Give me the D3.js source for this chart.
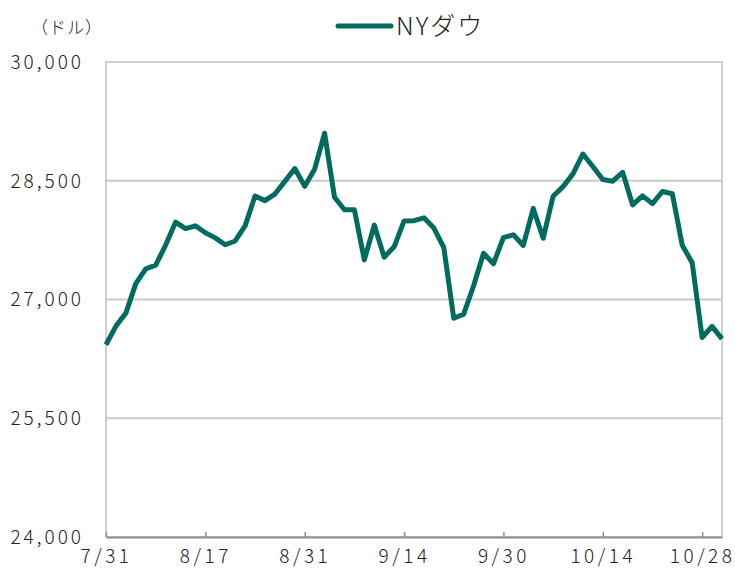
<!DOCTYPE html>
<html>
<head>
<meta charset="utf-8">
<script src="https://cdn.jsdelivr.net/npm/d3@7"></script>
<style>
  body { margin: 0; background: #fff; }
  text { font-family: "Noto Sans CJK JP", "Noto Sans", sans-serif; fill: #222; font-weight: 300; }
</style>
</head>
<body>
<svg id="chart" width="735" height="568"></svg>
<script>
// Japanese business days, NY Dow close (USD)
const dates = ["7/31","8/3","8/4","8/5","8/6","8/7","8/11","8/12","8/13","8/14",
  "8/17","8/18","8/19","8/20","8/21","8/24","8/25","8/26","8/27","8/28",
  "8/31","9/1","9/2","9/3","9/4","9/7","9/8","9/9","9/10","9/11",
  "9/14","9/15","9/16","9/17","9/18","9/23","9/24","9/25","9/28","9/29",
  "9/30","10/1","10/2","10/5","10/6","10/7","10/8","10/9","10/12","10/13",
  "10/14","10/15","10/16","10/19","10/20","10/21","10/22","10/23","10/26","10/27",
  "10/28","10/29","10/30"];
const dow = [26428,26664,26828,27201,27387,27433,27687,27977,27896,27931,
  27844,27778,27692,27739,27930,28308,28249,28332,28492,28654,
  28430,28646,29100,28292,28133,28133,27500,27940,27535,27666,
  27993,27996,28032,27902,27657,26763,26815,27174,27584,27452,
  27782,27817,27683,28149,27773,28304,28426,28587,28838,28680,
  28515,28494,28607,28196,28309,28211,28364,28336,27686,27464,
  26520,26660,26502];
const yTicks = [24000, 25500, 27000, 28500, 30000];
const xTickLabels = ["7/31","8/17","8/31","9/14","9/30","10/14","10/28"];
const seriesName = "NYダウ";
const unitLabel = "（ドル）";

const svg = d3.select("#chart");
const plotL = 106, plotR = 722, plotT = 62, plotB = 537;
const lineColor = "#006b5f";

const x = d3.scalePoint().domain(dates).range([plotL, plotR]);
const y = d3.scaleLinear().domain([24000, 30000]).range([plotB, plotT]);

// plot frame (light)
svg.append("rect")
  .attr("x", plotL).attr("y", plotT)
  .attr("width", plotR - plotL).attr("height", plotB - plotT)
  .attr("fill", "none").attr("stroke", "#cfcfcf").attr("stroke-width", 2);

// gridlines
svg.append("g").selectAll("line")
  .data(yTicks.slice(1, -1))
  .join("line")
  .attr("x1", plotL).attr("x2", plotR)
  .attr("y1", d => y(d)).attr("y2", d => y(d))
  .attr("stroke", "#cbcbcb").attr("stroke-width", 2);

// y labels
svg.append("g").selectAll("text")
  .data(yTicks)
  .join("text")
  .attr("x", 84)
  .attr("y", d => y(d))
  .attr("dy", "0.36em")
  .attr("text-anchor", "end")
  .attr("font-size", 19)
  .attr("letter-spacing", "3px")
  .text(d => d3.format(",")(d));

// x axis
const xAxis = d3.axisBottom(x)
  .tickValues(xTickLabels)
  .tickSizeInner(-5)
  .tickSizeOuter(0)
  .tickPadding(13);
const gx = svg.append("g")
  .attr("transform", `translate(0,${plotB})`)
  .call(xAxis);
gx.select(".domain").attr("stroke", "#8e8e8e").attr("stroke-width", 2);
gx.selectAll(".tick line").attr("stroke", "#8e8e8e").attr("stroke-width", 1.5);
gx.selectAll(".tick text")
  .attr("font-size", 19)
  .attr("letter-spacing", "3.5px")
  .attr("dx", "0px")
  .attr("font-family", "Noto Sans CJK JP")
  .attr("font-weight", 300)
  .attr("fill", "#222");

// series line
const line = d3.line()
  .x((d, i) => x(dates[i]))
  .y(d => y(d));
svg.append("path")
  .datum(dow)
  .attr("d", line)
  .attr("fill", "none")
  .attr("stroke", lineColor)
  .attr("stroke-width", 5)
  .attr("stroke-linejoin", "round");

// legend
svg.append("line")
  .attr("x1", 338).attr("x2", 391)
  .attr("y1", 26).attr("y2", 26)
  .attr("stroke", lineColor).attr("stroke-width", 5)
  .attr("stroke-linecap", "round");
svg.append("text")
  .attr("x", 396).attr("y", 26)
  .attr("dy", "0.36em")
  .attr("font-size", 25)
  .attr("letter-spacing", "2px")
  .text(seriesName);

// unit
svg.append("text")
  .attr("x", 31).attr("y", 28)
  .attr("dy", "0.36em")
  .attr("font-size", 17)
  .attr("letter-spacing", "1px")
  .text(unitLabel);
</script>
</body>
</html>
